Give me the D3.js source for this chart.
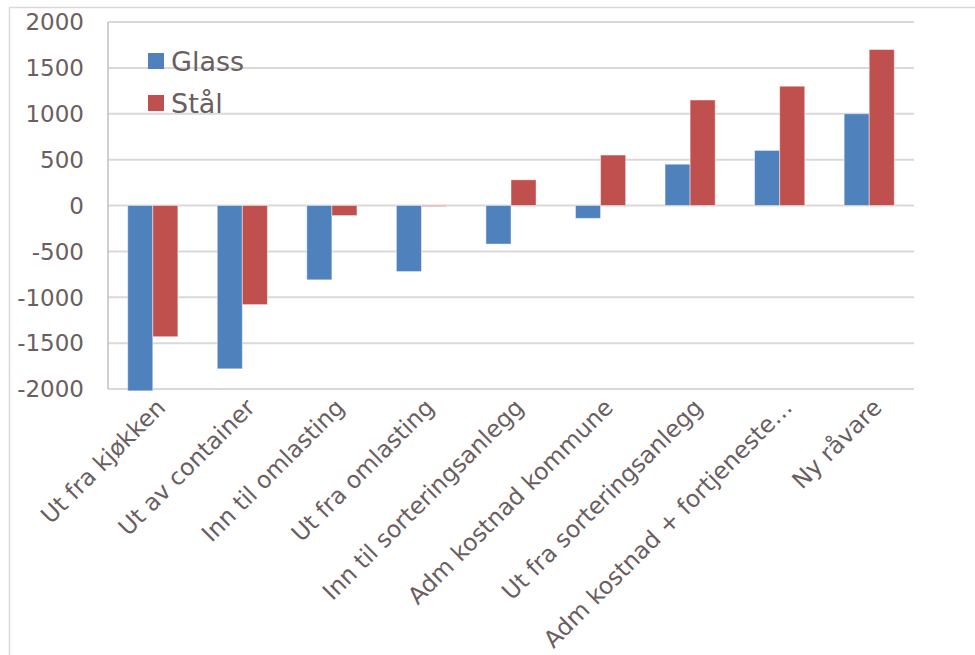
<!DOCTYPE html>
<meta charset="utf-8">
<html>
<head>
<style>
    body { margin: 0; background: #fff; }
    svg text { font-family: "DejaVu Sans", Verdana, sans-serif; fill: #6a5e60; }
    .grid line { stroke: #d9d9d9; stroke-width: 2px; }
</style>
</head>
<body>
<svg width="975" height="655"></svg>
<script src="https://cdn.jsdelivr.net/npm/d3@7"></script>
<script>

    var categories = ["Ut fra kjøkken", "Ut av container", "Inn til omlasting", "Ut fra omlasting",
        "Inn til sorteringsanlegg", "Adm kostnad kommune", "Ut fra sorteringsanlegg",
        "Adm kostnad + fortjeneste…", "Ny råvare"];
    var glass = [-2020, -1780, -810, -720, -420, -140, 450, 600, 1000];
    var staal = [-1430, -1080, -110, -10, 280, 550, 1150, 1300, 1700];
    var seriesNames = ["Glass", "Stål"];
    var yTicks = [2000, 1500, 1000, 500, 0, -500, -1000, -1500, -2000];

    var svg = d3.select("svg");

    // outer chart frame (only top + left edges visible in the crop)
    svg.append("path")
        .attr("d", "M9.5,655 L9.5,7.5 L975,7.5")
        .attr("fill", "none")
        .attr("stroke", "#d9d9d9")
        .attr("stroke-width", 1.5);

    var plotL = 108, plotR = 914, plotT = 22, plotB = 389;

    var x = d3.scaleBand().domain(categories).range([plotL, plotR]).paddingInner(0.44).paddingOuter(0.22);
    var y = d3.scaleLinear().domain([-2000, 2000]).range([plotB, plotT]);

    // gridlines
    svg.append("g")
        .attr("class", "grid")
        .selectAll("line")
        .data(yTicks)
        .enter().append("line")
        .attr("x1", plotL)
        .attr("x2", plotR)
        .attr("y1", d => y(d))
        .attr("y2", d => y(d));

    // vertical axis line
    svg.append("line")
        .attr("x1", plotL).attr("x2", plotL)
        .attr("y1", plotT).attr("y2", plotB)
        .attr("stroke", "#bfbfbf")
        .attr("stroke-width", 1.5);

    // y tick labels
    svg.append("g")
        .selectAll("text")
        .data(yTicks)
        .enter().append("text")
        .attr("x", 84)
        .attr("y", d => y(d))
        .attr("dy", "0.36em")
        .attr("text-anchor", "end")
        .style("font-size", "23px")
        .text(d => d);

    var sub = d3.scaleBand().domain([0, 1]).range([0, x.bandwidth()]);
    var colors = ["#4f81bd", "#c0504d"];
    var data = [glass, staal];

    data.forEach(function(vals, s) {
        svg.append("g")
            .selectAll("rect")
            .data(vals)
            .enter().append("rect")
            .attr("x", (d, i) => x(categories[i]) + sub(s))
            .attr("width", sub.bandwidth())
            .attr("y", d => y(Math.max(0, d)))
            .attr("height", d => Math.abs(y(d) - y(0)))
            .attr("fill", colors[s])
            .attr("stroke", "rgba(255,255,255,0.45)")
            .attr("stroke-width", 1);
    });

    // category labels, rotated -45
    svg.append("g")
        .selectAll("text")
        .data(categories)
        .enter().append("text")
        .attr("transform", d => "translate(" + (x(d) + x.bandwidth() / 2 + 8) + "," + 403 + ") rotate(-45)")
        .attr("text-anchor", "end")
        .attr("dy", "0.36em")
        .style("font-size", "23.5px")
        .text(d => d);

    // legend
    var legend = svg.append("g")
        .selectAll("g")
        .data(seriesNames)
        .enter().append("g")
        .attr("transform", (d, i) => "translate(148," + (53 + i * 42) + ")");
    legend.append("rect")
        .attr("width", 16).attr("height", 16)
        .attr("fill", (d, i) => colors[i]);
    legend.append("text")
        .attr("x", 23)
        .attr("y", 8)
        .attr("dy", "0.36em")
        .style("font-size", "27px")
        .text(d => d);

</script>
</body>
</html>
